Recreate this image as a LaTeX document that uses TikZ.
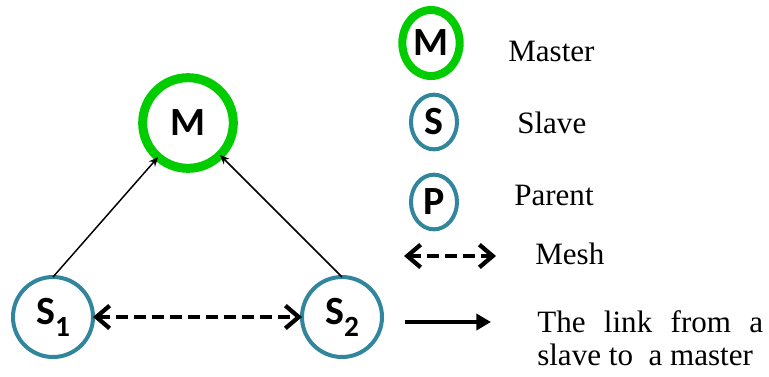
\documentclass[tikz,border=0pt]{standalone}
\usepackage{fontspec}
\setmainfont{Liberation Serif}
\newfontfamily\nodefont{Carlito}
\usetikzlibrary{positioning,arrows.meta,shapes.geometric}

\definecolor{masterGreen}{RGB}{0,204,0}
\definecolor{slaveBlue}{RGB}{49,133,156}

\newcommand{\subidx}[1]{\raisebox{-0.3em}{\fontsize{22}{22}\selectfont #1}}

\begin{document}
\begin{tikzpicture}[
  x=0.75pt, y=-0.75pt,
  lbl/.style={font=\nodefont\bfseries\fontsize{30}{32}\selectfont, inner sep=0pt, outer sep=0pt},
  master/.style={lbl, circle, draw=masterGreen, line width=6.75pt, minimum size=68pt},
  slave/.style={lbl, circle, draw=slaveBlue, line width=3pt, minimum size=60pt},
  keymaster/.style={lbl, ellipse, draw=masterGreen, line width=6pt, minimum width=43pt, minimum height=49.5pt},
  keyslave/.style={lbl, ellipse, draw=slaveBlue, line width=3pt, minimum width=34.5pt, minimum height=41pt},
  keytext/.style={anchor=west, inner sep=0pt, font=\fontsize{23.3}{28}\selectfont},
  arr/.style={-{Stealth[length=7pt,width=6pt]}, line width=1.1pt},
  barb/.tip={Straight Barb[length=10pt,width=17pt,line width=3.2pt]},
  mesh/.style={barb-barb, line width=3pt, dash pattern=on 9pt off 4.5pt},
  link/.style={-{Triangle[length=11pt,width=12pt]}, line width=3pt}
]
\useasboundingbox (0,0) rectangle (769,376);

% network
\node[master] (m) at (188,123) {M};
\node[slave] (s1) at (53,317) {S\subidx{1}};
\node[slave] (s2) at (342,317) {S\subidx{2}};

\draw[arr] (s1.north) -- (m);
\draw[arr] (s2.north) -- (m);
\draw[mesh] (s1) -- (s2);

% legend
\node[keymaster] (km) at (431,43) {M};
\node[keyslave] (ks) at (434,122) {S};
\node[keyslave] (kp) at (434,202) {P};

\node[keytext] (tm) at (508,51) {Master};
\node[keytext] (ts) at (517,123) {Slave};
\node[keytext] (tp) at (514,195) {Parent};
\node[keytext] (tmesh) at (535,254) {Mesh};

\coordinate (meshA) at (404,256);
\coordinate (meshB) at (496,256);
\draw[mesh] (meshA) -- (meshB);

\coordinate (linkA) at (405,322);
\coordinate (linkB) at (491,322);
\draw[link] (linkA) -- (linkB);

\node[keytext, anchor=base west] (tlink1) at (537,332) {\makebox[169.5pt][s]{The link from a}};
\node[keytext, anchor=base west] (tlink2) at (537,365) {slave to\ \ a master};
\end{tikzpicture}
\end{document}
